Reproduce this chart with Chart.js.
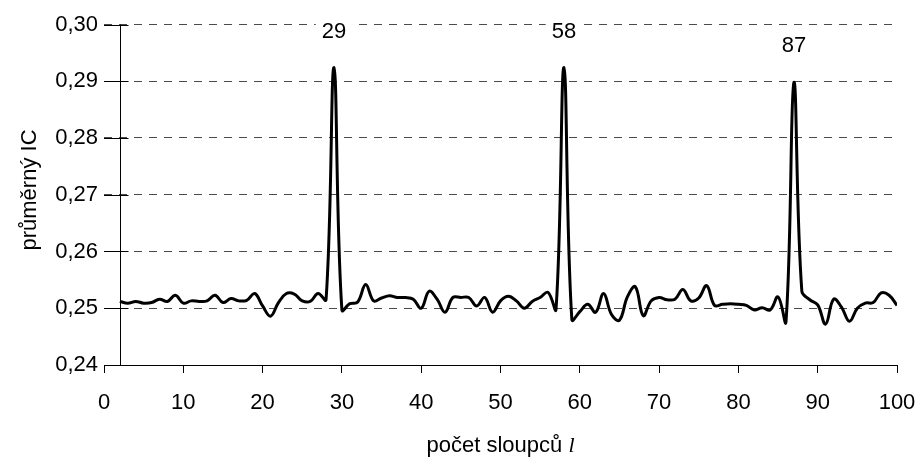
<!DOCTYPE html>
<html><head><meta charset="utf-8">
<script src="https://cdn.jsdelivr.net/npm/chart.js@4.4.1/dist/chart.umd.min.js"></script>
<style>html,body{margin:0;padding:0;background:#fff;}#wrap{width:922px;height:463px;}</style>
</head><body><div id="wrap"><canvas id="c" width="922" height="463"></canvas></div>
<script>
const columns = [2,3,4,5,6,7,8,9,10,11,12,13,14,15,16,17,18,19,20,21,22,23,24,25,26,27,28,29,30,
  31,32,33,34,35,36,37,38,39,40,41,42,43,44,45,46,47,48,49,50,51,52,53,54,55,56,57,58,59,60,
  61,62,63,64,65,66,67,68,69,70,71,72,73,74,75,76,77,78,79,80,81,82,83,84,85,86,87,88,89,90,
  91,92,93,94,95,96,97,98,99,100];
const avgIC = [0.2512,0.2509,0.2512,0.2509,0.2510,0.2516,0.2512,0.2523,0.2509,0.2513,
  0.2512,0.2513,0.2523,0.2510,0.2517,0.2513,0.2514,0.2526,0.2504,0.2486,
  0.2510,0.2526,0.2525,0.2513,0.2512,0.2526,0.2515,0.2924,0.2497,0.2508,
  0.2511,0.2542,0.2513,0.2518,0.2522,0.2519,0.2519,0.2516,0.2500,0.2530,
  0.2516,0.2493,0.2519,0.2519,0.2519,0.2504,0.2519,0.2493,0.2513,0.2521,
  0.2513,0.2500,0.2512,0.2519,0.2528,0.2498,0.2924,0.2480,0.2494,0.2507,
  0.2493,0.2526,0.2489,0.2479,0.2520,0.2538,0.2487,0.2513,0.2519,0.2515,
  0.2516,0.2533,0.2513,0.2518,0.2540,0.2505,0.2507,0.2508,0.2507,0.2505,
  0.2497,0.2501,0.2497,0.2520,0.2476,0.2898,0.2530,0.2515,0.2506,0.2472,
  0.2516,0.2502,0.2477,0.2500,0.2509,0.2510,0.2527,0.2523,0.2505];
const xTicks = [0,10,20,30,40,50,60,70,80,90,100];
const yTicks = [0.24,0.25,0.26,0.27,0.28,0.29,0.30];
const peakColumns = [29,58,87];
const yTitle = 'průměrný IC';
const xTitle = 'počet sloupců ';
const xTitleVar = 'l';

const FONT = '"Liberation Sans", Arial, sans-serif';
Chart.defaults.font.family = FONT;
Chart.defaults.font.size = 22;
Chart.defaults.color = '#000';

const fmt = v => v.toFixed(2).replace('.', ',');

const decor = {
  id: 'decor',
  afterDatasetsDraw(chart) {
    const {ctx, chartArea, scales: {x, y}} = chart;
    const ax = Math.round(x.getPixelForValue(columns[0])) + 0.5;
    ctx.save();
    ctx.strokeStyle = '#000';
    ctx.lineWidth = 1;
    ctx.beginPath();
    ctx.moveTo(ax, chartArea.top);
    ctx.lineTo(ax, chartArea.bottom);
    yTicks.forEach(v => {
      const py = Math.round(y.getPixelForValue(v)) + 0.5;
      ctx.moveTo(chartArea.left, py);
      ctx.lineTo(ax + 8, py);
    });
    ctx.stroke();
    ctx.restore();
  },
  afterDraw(chart) {
    const {ctx, chartArea, scales: {x, y}} = chart;
    ctx.save();
    ctx.font = '22px ' + FONT;
    ctx.textAlign = 'center';
    ctx.textBaseline = 'middle';
    peakColumns.forEach(c => {
      const i = columns.indexOf(c);
      const px = x.getPixelForValue(c);
      const py = y.getPixelForValue(avgIC[i]) - 36;
      const t = String(c);
      const w = ctx.measureText(t).width;
      ctx.fillStyle = '#fff';
      ctx.fillRect(px - w / 2 - 6, py - 12, w + 12, 24);
      ctx.fillStyle = '#000';
      ctx.fillText(t, px, py);
    });
    ctx.save();
    ctx.translate(30, 190);
    ctx.rotate(-Math.PI / 2);
    ctx.textAlign = 'center';
    ctx.textBaseline = 'middle';
    ctx.fillText(yTitle, 0, 0);
    ctx.restore();
    ctx.textBaseline = 'alphabetic';
    ctx.textAlign = 'left';
    ctx.font = '22px ' + FONT;
    const w1 = ctx.measureText(xTitle).width;
    const f2 = 'italic 22px "Liberation Serif", "Times New Roman", serif';
    ctx.font = f2;
    const w2 = ctx.measureText(xTitleVar).width;
    const cx = (chartArea.left + chartArea.right) / 2;
    const sx = cx - (w1 + w2) / 2;
    const by = 452;
    ctx.font = '22px ' + FONT;
    ctx.fillText(xTitle, sx, by);
    ctx.font = f2;
    ctx.fillText(xTitleVar, sx + w1, by);
    ctx.restore();
  }
};

new Chart(document.getElementById('c'), {
  type: 'line',
  data: {
    datasets: [{
      data: columns.map((c, i) => ({x: c, y: avgIC[i]})),
      borderColor: '#000',
      borderWidth: 3,
      pointRadius: 0,
      tension: 0.4,
      fill: false
    }]
  },
  options: {
    responsive: false,
    animation: false,
    devicePixelRatio: 1,
    layout: {padding: {top: 24.5, right: 25, left: 0, bottom: 0}},
    plugins: {legend: {display: false}, tooltip: {enabled: false}},
    scales: {
      x: {
        type: 'linear',
        min: 0, max: 100,
        afterBuildTicks: s => { s.ticks = xTicks.map(v => ({value: v})); },
        afterFit: s => { s.height = 98; s.paddingLeft = 0; s.paddingRight = 0; },
        border: {display: true, color: '#000', width: 1},
        grid: {drawOnChartArea: false, drawTicks: true, tickLength: 8, color: '#000'},
        ticks: {padding: 17, maxRotation: 0, autoSkip: false, font: {size: 22}, color: '#000'}
      },
      y: {
        type: 'linear',
        min: 0.24, max: 0.30,
        afterBuildTicks: s => { s.ticks = yTicks.map(v => ({value: v})); },
        afterFit: s => { s.width = 104; s.paddingTop = 0; s.paddingBottom = 0; },
        border: {display: false, dash: [8, 7]},
        grid: {
          drawTicks: false,
          color: ctx => (ctx.tick && Math.abs(ctx.tick.value - 0.24) < 1e-9) ? 'rgba(0,0,0,0)' : '#4a4a4a',
          lineWidth: 1
        },
        ticks: {padding: 6, callback: v => fmt(v), font: {size: 22}, color: '#000'}
      }
    }
  },
  plugins: [decor]
});
</script>
</body></html>
